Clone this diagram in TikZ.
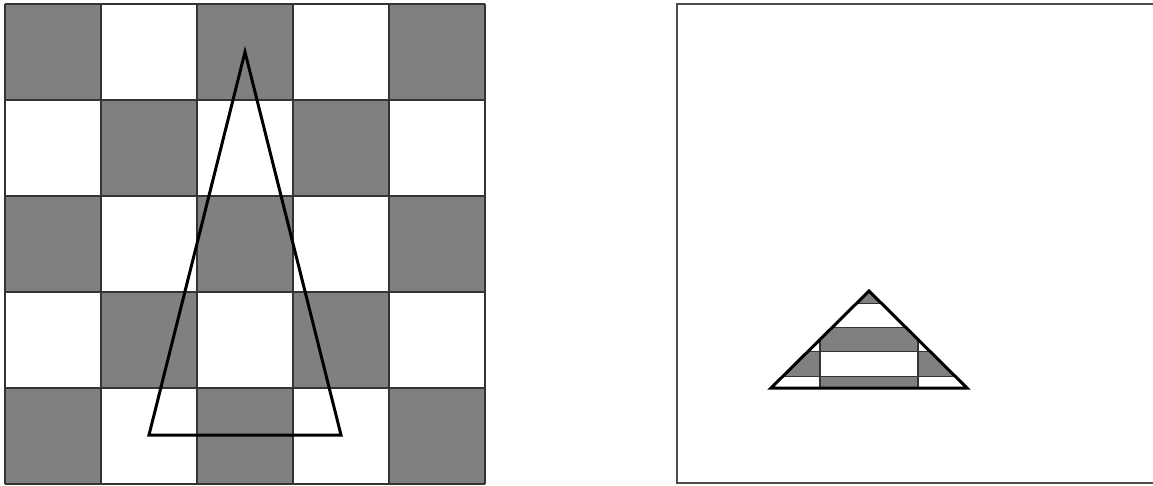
\documentclass[tikz,border=0pt]{standalone}
\tikzset{
  cell/.style={fill=gray},
  gridline/.style={draw=black!80, line width=1.1pt},
  tri/.style={draw=black, line width=3pt, line join=miter},
  frame/.style={draw=black!70, line width=1.3pt}
}
\newcommand{\myboard}{%
  \foreach \i in {0,...,4}{%
    \foreach \j in {0,...,4}{%
      \pgfmathtruncatemacro{\myparity}{mod(\i+\j,2)}%
      \ifnum\myparity=0 \fill[cell] ({5+96*\i},{4+96*\j}) rectangle ++(96,96);\fi
    }%
  }%
  \foreach \k in {0,...,5}{%
    \draw[gridline] ({5+96*\k},4) -- ({5+96*\k},484);
    \draw[gridline] (5,{4+96*\k}) -- (485,{4+96*\k});
  }%
}
\begin{document}
\begin{tikzpicture}[x=1pt,y=-1pt]
\useasboundingbox (0,0) rectangle (1153,485);
% left: checkerboard with triangle
\myboard
\draw[tri] (245,52) -- (149,435) -- (341,435) -- cycle;
% right: frame
\draw[frame] (1154,4) -- (677,4) -- (677,483) -- (1154,483);
% right: mapped triangle
\begin{scope}
  \clip (869,291) -- (771,388) -- (967,388) -- cycle;
  \begin{scope}[shift={(618.9,277.83)}, xscale=1.0208, yscale=0.2533]
    \myboard
  \end{scope}
\end{scope}
\draw[tri] (869,291) -- (771,388) -- (967,388) -- cycle;
\end{tikzpicture}
\end{document}
